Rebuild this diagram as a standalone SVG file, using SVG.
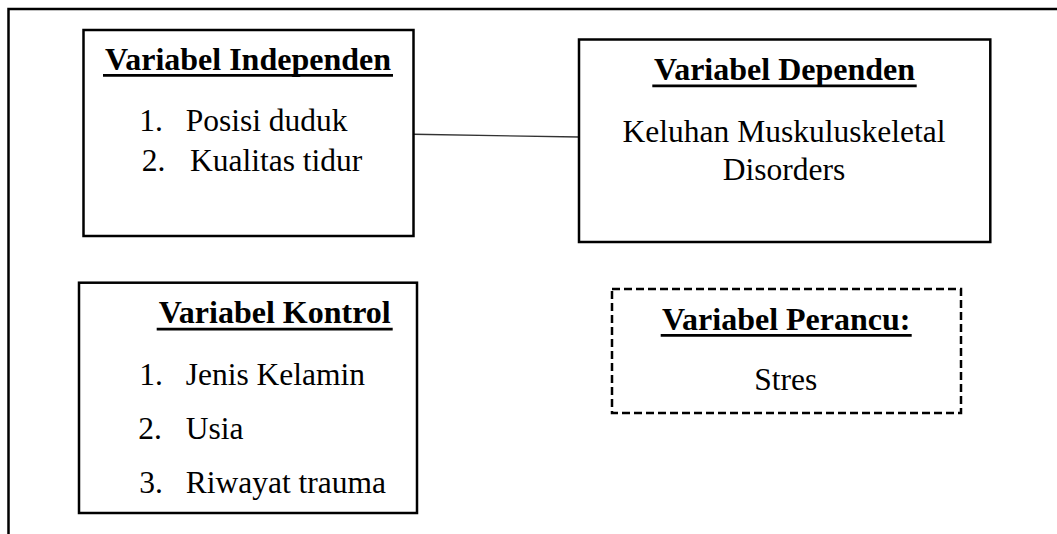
<svg xmlns="http://www.w3.org/2000/svg" width="1057" height="534" viewBox="0 0 1057 534">
<style>
.box{fill:#fff;stroke:#000;stroke-width:2.5}
.dash{fill:#fff;stroke:#000;stroke-width:2.5;stroke-dasharray:8 4}
.t{font-family:"Liberation Serif","Times New Roman",serif;font-size:32px;font-weight:bold;fill:#000}
.b{font-family:"Liberation Serif","Times New Roman",serif;font-size:31.5px;fill:#000}
.ul{stroke:#000;stroke-width:2.7}
.frame{stroke:#000;stroke-width:2.5;fill:none}
.conn{stroke:#333;stroke-width:1.4;fill:none}
</style>
<rect width="1057" height="534" fill="#fff"/>
<g id="frame">
<polyline class="frame" points="8.5,534 8.5,9 1057,9"/>
</g>
<g id="connectors">
<line class="conn" x1="413.5" y1="134.3" x2="579" y2="137"/>
</g>
<g id="independen">
<rect class="box" x="83.5" y="30" width="330" height="206"/>
<text class="t" x="248" y="70" text-anchor="middle">Variabel Independen</text>
<line class="ul" x1="103" y1="75.4" x2="393" y2="75.4"/>
<text class="b" x="139.3" y="130.7">1.</text>
<text class="b" x="185.7" y="130.7">Posisi duduk</text>
<text class="b" x="141.7" y="170.7">2.</text>
<text class="b" x="190" y="170.7">Kualitas tidur</text>
</g>
<g id="dependen">
<rect class="box" x="579" y="39.5" width="411.3" height="202.5"/>
<text class="t" x="784.5" y="80" text-anchor="middle">Variabel Dependen</text>
<line class="ul" x1="652.3" y1="85.8" x2="916.7" y2="85.8"/>
<text class="b" x="784" y="141.7" text-anchor="middle">Keluhan Muskuluskeletal</text>
<text class="b" x="784" y="180" text-anchor="middle">Disorders</text>
</g>
<g id="kontrol">
<rect class="box" x="79" y="282.7" width="338" height="230.3"/>
<text class="t" x="274.7" y="323.3" text-anchor="middle">Variabel Kontrol</text>
<line class="ul" x1="156.7" y1="329.2" x2="392.7" y2="329.2"/>
<text class="b" x="139.3" y="385">1.</text>
<text class="b" x="185.7" y="385">Jenis Kelamin</text>
<text class="b" x="138.3" y="439.3">2.</text>
<text class="b" x="185.7" y="439.3">Usia</text>
<text class="b" x="139.3" y="493.3">3.</text>
<text class="b" x="185.7" y="493.3">Riwayat trauma</text>
</g>
<g id="perancu">
<rect class="dash" x="612" y="289" width="349" height="124"/>
<text class="t" x="786.2" y="330" text-anchor="middle">Variabel Perancu:</text>
<line class="ul" x1="660.7" y1="335.4" x2="911.7" y2="335.4"/>
<text class="b" x="785.8" y="390" text-anchor="middle">Stres</text>
</g>
</svg>
